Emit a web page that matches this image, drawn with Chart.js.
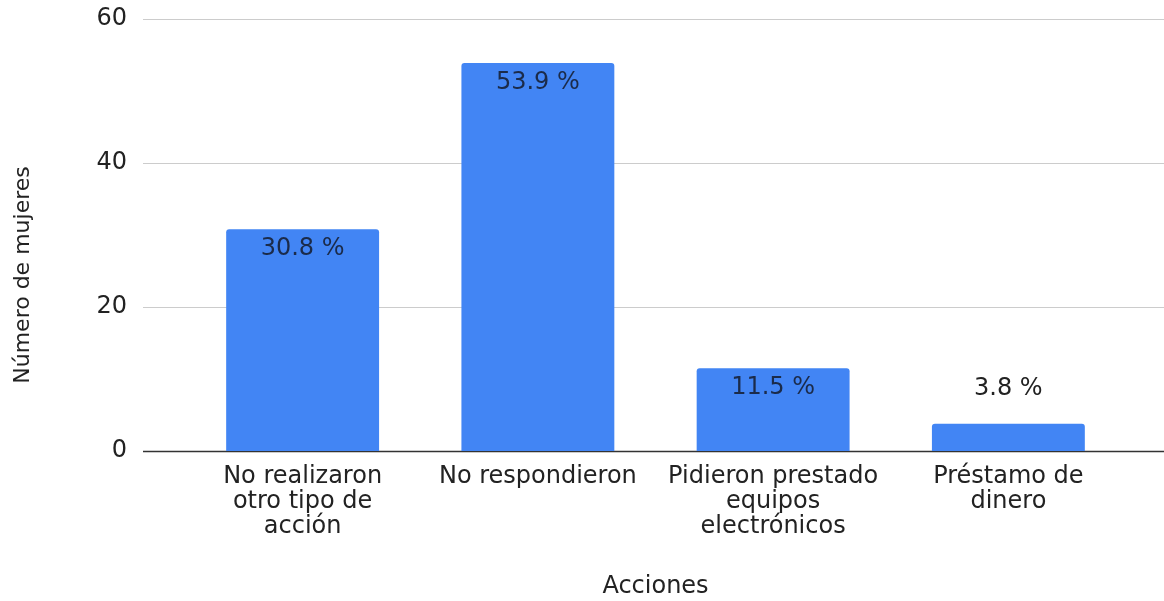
<!DOCTYPE html>
<html>
<head>
<meta charset="utf-8">
<script src="https://cdn.jsdelivr.net/npm/chart.js@4"></script>
<style>
  html, body { margin: 0; padding: 0; background: #fff; }
  #wrap { width: 1164px; height: 601px; }
</style>
</head>
<body>
<div id="wrap"><canvas id="grafico" width="1164" height="601"></canvas></div>
<script>
// datos del gráfico
const categorias = [
  ['No realizaron', 'otro tipo de', 'acción'],
  ['No respondieron'],
  ['Pidieron prestado', 'equipos', 'electrónicos'],
  ['Préstamo de', 'dinero']
];
const valores = [30.8, 53.9, 11.5, 3.8];
const etiquetas = ['30.8 %', '53.9 %', '11.5 %', '3.8 %'];
const ticksY = [0, 20, 40, 60];

(function(){
  const FUENTE = '"DejaVu Sans", "Liberation Sans", Arial, sans-serif';
  const AZUL = '#4285f4';

  // líneas de la grilla más anchas que el área de barras, como en el original
  const grilla = {
    id: 'grilla',
    beforeDatasetsDraw(chart){
      const ctx = chart.ctx, y = chart.scales.y;
      ctx.save();
      ticksY.forEach(function(t){
        const py = Math.round(y.getPixelForValue(t)) + 0.5;
        ctx.strokeStyle = t === 0 ? '#333333' : '#cccccc';
        ctx.lineWidth = t === 0 ? 1.5 : 1.2;
        ctx.beginPath(); ctx.moveTo(143, py); ctx.lineTo(1164, py); ctx.stroke();
      });
      ctx.restore();
    }
  };

  // etiquetas de porcentaje y título del eje Y
  const textos = {
    id: 'textos',
    afterDatasetsDraw(chart){
      const ctx = chart.ctx;
      const meta = chart.getDatasetMeta(0);
      ctx.save();
      ctx.font = '24px ' + FUENTE;
      ctx.textAlign = 'center';
      ctx.textBaseline = 'middle';
      meta.data.forEach(function(bar, i){
        const alto = bar.base - bar.y;
        if(alto > 50){
          ctx.fillStyle = '#1b2b4a';
          ctx.fillText(etiquetas[i], bar.x, bar.y + 20);
        } else {
          ctx.fillStyle = '#222222';
          ctx.fillText(etiquetas[i], bar.x, bar.y - 35);
        }
      });
      ctx.translate(23, 275);
      ctx.rotate(-Math.PI/2);
      ctx.font = '22px ' + FUENTE;
      ctx.fillStyle = '#222222';
      ctx.fillText('Número de mujeres', 0, 0);
      ctx.restore();
    }
  };

  new Chart(document.getElementById('grafico').getContext('2d'), {
    type: 'bar',
    data: {
      labels: categorias,
      datasets: [{
        data: valores,
        backgroundColor: AZUL,
        borderRadius: { topLeft: 3, topRight: 3, bottomLeft: 0, bottomRight: 0 },
        borderSkipped: 'bottom',
        categoryPercentage: 1,
        barPercentage: 0.65
      }]
    },
    options: {
      responsive: false,
      animation: false,
      layout: { padding: { top: 19, right: 38, left: 0, bottom: 0 } },
      plugins: { legend: { display: false }, tooltip: { enabled: false } },
      scales: {
        x: {
          grid: { display: false, drawTicks: false },
          border: { display: false },
          ticks: { color: '#222222', padding: 13, maxRotation: 0, autoSkip: false,
                   font: { family: FUENTE, size: 24, lineHeight: '25px' } },
          title: { display: true, text: 'Acciones', color: '#222222', padding: { top: 0, bottom: 0 },
                   font: { family: FUENTE, size: 24 } },
          afterFit: function(s){ s.height = 150; s.paddingLeft = 0; s.paddingRight = 0; }
        },
        y: {
          min: 0, max: 60,
          grid: { display: false, drawTicks: false },
          border: { display: false },
          ticks: { stepSize: 20, color: '#222222', padding: 58,
                   font: { family: FUENTE, size: 24 } },
          afterFit: function(s){ s.width = 185; s.paddingTop = 0; s.paddingBottom = 0; }
        }
      }
    },
    plugins: [grilla, textos]
  });
})();
</script>
</body>
</html>
